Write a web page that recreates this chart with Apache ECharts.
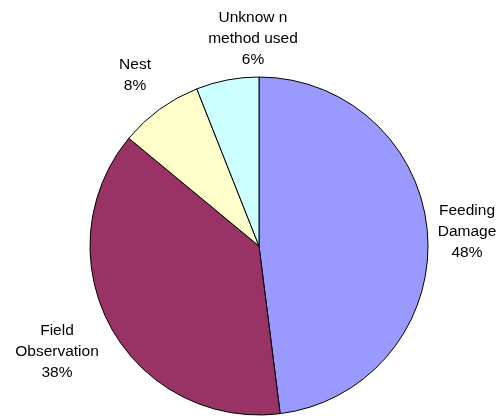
<!DOCTYPE html>
<html><head><meta charset="utf-8">
<script src="https://cdn.jsdelivr.net/npm/echarts@6/dist/echarts.min.js"></script>
<style>html,body{margin:0;padding:0;background:#fff}#c{width:502px;height:419px}</style>
</head><body><div id="c"></div>
<script>
var categories = ["Feeding\nDamage", "Field\nObservation", "Nest", "Unknow n\nmethod used"];
var values = [48, 38, 8, 6];
var colors = ["#9999FF", "#993366", "#FFFFCC", "#CCFFFF"];
var labelPos = [[467, 232], [57, 352], [135, 75], [253, 39]];

var chart = echarts.init(document.getElementById('c'), null, {renderer: 'canvas'});
chart.setOption({
  animation: false,
  series: [{
    type: 'pie',
    center: [259, 246],
    radius: 169,
    startAngle: 90,
    clockwise: true,
    data: categories.map(function (c, i) {
      return {name: c, value: values[i], itemStyle: {color: colors[i]}};
    }),
    itemStyle: {borderColor: '#000', borderWidth: 1},
    label: {
      show: true,
      position: 'outside',
      formatter: function (p) { return p.name + '\n' + p.value + '%'; },
      fontFamily: 'Liberation Sans, Arial, sans-serif',
      fontSize: 15.5,
      lineHeight: 21,
      color: '#000',
      align: 'center',
      overflow: 'none'
    },
    labelLine: {show: false},
    labelLayout: function (params) {
      var p = labelPos[params.dataIndex];
      return {x: p[0], y: p[1], align: 'center', verticalAlign: 'middle', hideOverlap: false, moveOverlap: false};
    },
    emphasis: {disabled: true}
  }]
});
</script></body></html>
